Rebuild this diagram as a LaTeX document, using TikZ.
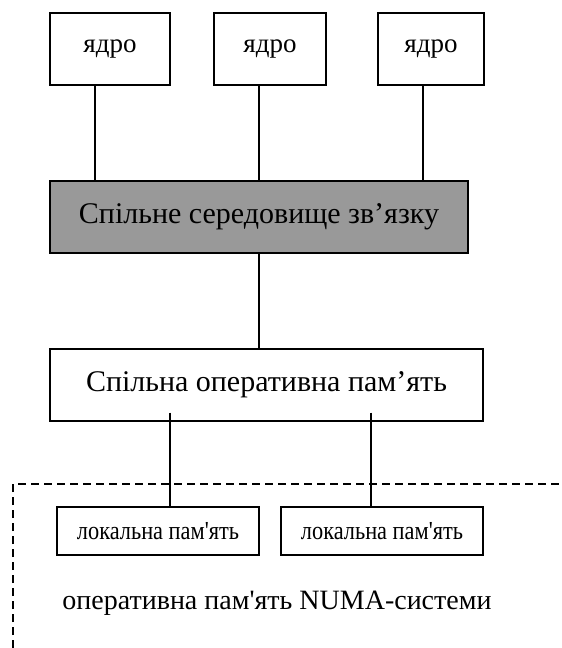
\documentclass[tikz,border=0pt]{standalone}
\usepackage{fontspec}
\setmainfont{Liberation Serif}[Ligatures=TeXOff]
\begin{document}
\begin{tikzpicture}[x=1pt,y=-1pt,
  box/.style={draw=black, line width=1.2pt, fill=white, inner sep=0pt},
  core/.style={box, minimum height=72pt, font=\fontsize{27}{30}\selectfont},
  wide/.style={box, minimum height=72pt, font=\fontsize{30}{33}\selectfont},
  local/.style={box, minimum width=202pt, minimum height=48pt},
  link/.style={line width=1.2pt}]
\useasboundingbox (0,0) rectangle (562,648);
\node[core, minimum width=120pt] (c1) at (110,49) {ядро};
\node[core, minimum width=112pt] (c2) at (270,49) {ядро};
\node[core, minimum width=106pt] (c3) at (431,49) {ядро};
\node[wide, minimum width=418pt, fill={rgb,255:red,153;green,153;blue,153}] (bus) at (259,217) {Спільне середовище зв’язку};
\node[wide, minimum width=433pt] (mem) at (266.5,385) {Спільна оперативна пам’ять};
\node[local] (l1) at (158,531) {\scalebox{0.86}[1]{\fontsize{26}{28}\selectfont локальна пам'ять}};
\node[local] (l2) at (382,531) {\scalebox{0.86}[1]{\fontsize{26}{28}\selectfont локальна пам'ять}};
\node[font=\fontsize{28}{31}\selectfont] (numa) at (277,603) {оперативна пам'ять NUMA-системи};
\coordinate (xa) at (95,0);
\coordinate (xb) at (259,0);
\coordinate (xc) at (423,0);
\coordinate (xd) at (170,0);
\coordinate (xe) at (371,0);
\draw[link] (xa |- c1.south) -- (xa |- bus.north);
\draw[link] (xb |- c2.south) -- (xb |- bus.north);
\draw[link] (xc |- c3.south) -- (xc |- bus.north);
\draw[link] (bus.south) -- (xb |- mem.north);
\coordinate (dl) at (13,648);
\coordinate (dc) at (13,484);
\coordinate (dr) at (562,484);
\draw[link, dash pattern=on 8pt off 5pt] (dl) -- (dc) -- (dr);
\draw[link] ([yshift=9pt]xd |- mem.south) -- (xd |- l1.north);
\draw[link] ([yshift=9pt]xe |- mem.south) -- (xe |- l2.north);
\end{tikzpicture}
\end{document}
